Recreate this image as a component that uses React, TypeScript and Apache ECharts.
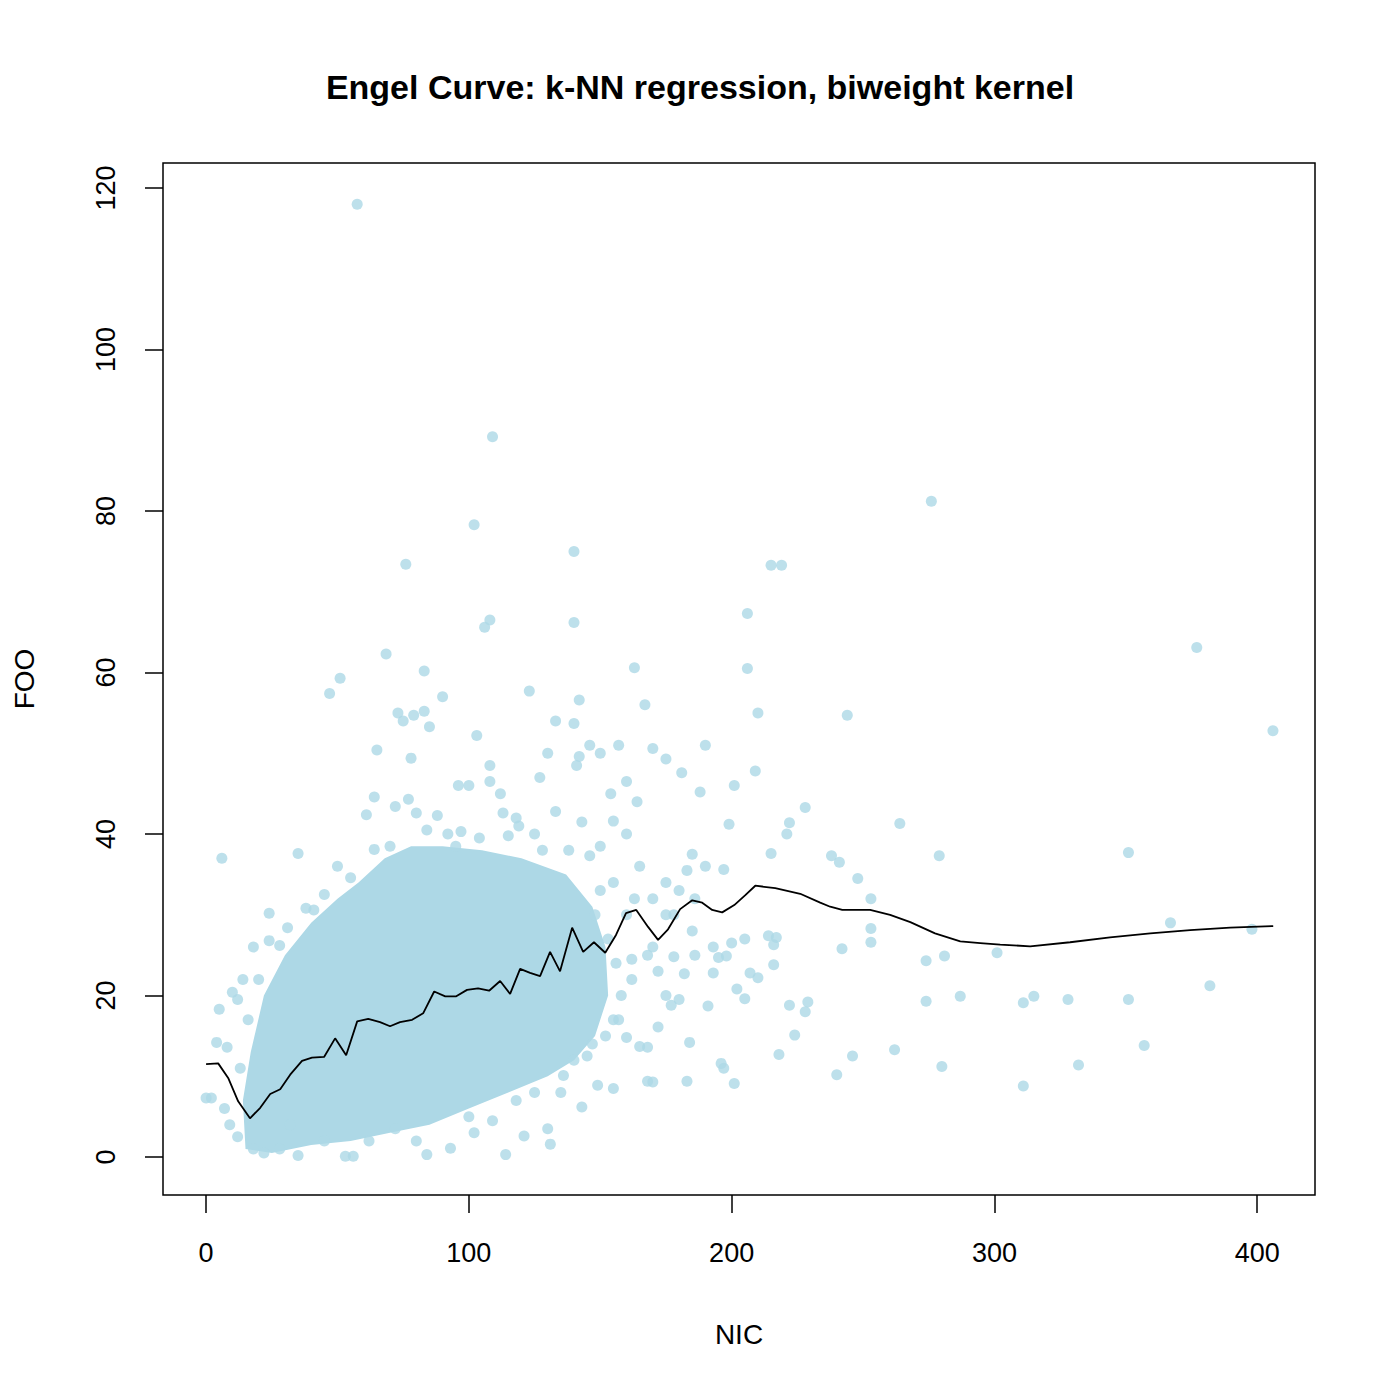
import { useEffect, useRef } from 'react';
import * as echarts from 'echarts';

// k-NN biweight fit (NIC, FOO)
const FIT: [number, number][] = [
  [0, 11.5], [4.6, 11.6], [8.4, 9.8], [12.2, 6.9], [16.7, 4.8], [20.6, 6.1], [24.4, 7.8], [28.2, 8.4],
  [32, 10.2], [36.5, 11.9], [40.3, 12.3], [44.9, 12.4], [49.1, 14.7], [53.3, 12.6], [57.5, 16.8],
  [61.7, 17.1], [66.2, 16.7], [70, 16.2], [73.8, 16.7], [78.4, 17], [82.6, 17.8], [86.8, 20.5],
  [91, 19.9], [95.2, 19.9], [99.3, 20.7], [103.5, 20.9], [107.7, 20.6], [111.9, 21.8], [115.7, 20.2],
  [119.5, 23.3], [123.3, 22.8], [127.1, 22.4], [130.9, 25.4], [134.7, 23], [139.3, 28.4], [143.5, 25.4],
  [147.6, 26.6], [151.9, 25.3], [156, 27.5], [159.8, 30.2], [163.7, 30.6], [168.2, 28.5], [172, 26.9],
  [175.8, 28.2], [180.4, 30.7], [185, 31.8], [188.8, 31.5], [192.6, 30.6], [196.4, 30.3], [201, 31.2],
  [205.1, 32.4], [209, 33.6], [216.6, 33.3], [226.1, 32.6], [233.7, 31.5], [237.5, 31], [242.1, 30.6],
  [252.7, 30.6], [260.3, 30], [268, 29.1], [277.4, 27.7], [287, 26.7], [294.6, 26.5], [302.2, 26.3],
  [313.6, 26.1], [328.8, 26.6], [344, 27.2], [359.3, 27.7], [374.5, 28.1], [389.7, 28.4], [406.1, 28.6],
];

// outline of the densely overplotted core of the cloud
const CORE: [number, number][] = [
  [15, 1], [25, 0.5], [40, 1.5], [55, 2], [70, 3], [85, 4], [100, 6], [115, 8], [130, 10], [140, 12],
  [148, 15], [153, 20], [152, 26], [147, 31], [137, 35], [120, 37], [105, 38], [90, 38.5], [78, 38.5],
  [68, 37], [58, 34], [50, 32], [40, 29], [30, 25], [22, 20], [17, 13], [14, 7],
];

const POINTS: [number, number][] = [
  [57.5, 118], [109, 89.2], [102, 78.3], [76, 73.4], [140, 75], [108, 66.5], [106, 65.6], [140, 66.2],
  [68.5, 62.3], [83, 60.2], [51, 59.3], [47, 57.4], [90, 57], [123, 57.7], [142, 56.6], [73, 55], [75, 54],
  [79, 54.7], [83, 55.2], [85, 53.3], [133, 54], [140, 53.7], [130, 50], [103, 52.2], [108, 48.5],
  [142, 49.6], [150, 50], [146, 51], [163, 60.6], [167, 56], [65, 50.4], [78, 49.4], [108, 46.5],
  [112, 45], [96, 46], [100, 46], [157, 51], [170, 50.6], [175, 49.3], [181, 47.6], [190, 51], [64, 44.6],
  [72, 43.4], [77, 44.3], [80, 42.6], [113, 42.6], [118, 42], [127, 47], [141, 48.5], [154, 45],
  [160, 46.5], [164, 44], [188, 45.2], [199, 41.2], [206, 67.3], [206, 60.5], [210, 55], [215, 73.3],
  [219, 73.3], [201, 46], [209, 47.8], [228, 43.3], [222, 41.4], [221, 40], [215, 37.6], [238, 37.3],
  [241, 36.5], [244, 54.7], [248, 34.5], [253, 32], [264, 41.3], [279, 37.3], [276, 81.2], [377, 63.1],
  [406, 52.8], [351, 37.7], [367, 29], [398, 28.2], [382, 21.2], [357, 13.8], [351, 19.5], [332, 11.4],
  [328, 19.5], [315, 19.9], [311, 19.1], [311, 8.8], [301, 25.3], [287, 19.9], [281, 24.9], [280, 11.2],
  [274, 24.3], [274, 19.3], [262, 13.3], [253, 28.3], [253, 26.6], [246, 12.5], [242, 25.8], [240, 10.2],
  [229, 19.2], [228, 18], [224, 15.1], [222, 18.8], [218, 12.7], [217, 27.2], [216, 26.3], [216, 23.8],
  [214, 27.4], [210, 22.2], [207, 22.8], [205, 19.6], [202, 20.8], [201, 9.1], [197, 11], [196, 11.6],
  [198, 24.9], [193, 26], [191, 18.7], [193, 22.8], [195, 24.7], [186, 25], [184, 14.2], [183, 9.4],
  [183, 35.5], [182, 22.7], [180, 19.5], [177, 18.8], [175, 20], [172, 16.1], [170, 9.3], [168, 9.4],
  [168, 13.6], [165, 13.7], [160, 14.8], [157, 17], [155, 8.5], [149, 8.9], [147, 14], [143, 6.2],
  [136, 10.1], [131, 1.6], [130, 3.5], [121, 2.6], [114, 0.3], [109, 4.5], [93, 1.1], [84, 0.3], [56, 0.1],
  [53, 0.1], [35, 0.2], [22, 0.5], [6, 37], [5, 18.3], [2, 7.3], [0, 7.3], [4, 14.2], [8, 13.6], [7, 6],
  [10, 20.4], [14, 22], [12, 19.5], [18, 26], [24, 30.2], [24, 26.8], [31, 28.4], [35, 37.6], [41, 30.6],
  [50, 36], [61, 42.4], [64, 38.1], [55, 34.6], [88, 42.3], [92, 40], [97, 40.3], [95, 38.5], [115, 39.8],
  [119, 41], [125, 40], [133, 42.8], [138, 38], [143, 41.5], [146, 37.3], [150, 38.5], [155, 41.6],
  [160, 40], [165, 36], [170, 32], [178, 30], [186, 32], [190, 36], [185, 37.5], [180, 33], [175, 34],
  [197, 35.6], [205, 27], [200, 26.5], [162, 24.5], [158, 20], [155, 17], [162, 22], [168, 25], [172, 23],
  [178, 24.8], [185, 28], [9, 4], [12, 2.5], [18, 1], [28, 1], [32, 4], [45, 2], [62, 2], [72, 3.5],
  [80, 2], [100, 5], [102, 3], [118, 7], [125, 8], [135, 8], [140, 12], [145, 12.5], [152, 15], [170, 26],
  [175, 30], [163, 32], [155, 34], [148, 30], [153, 27], [160, 30], [45, 32.5], [38, 30.8], [28, 26.2],
  [20, 22], [16, 17], [13, 11], [70, 38.5], [84, 40.5], [104, 39.5], [128, 38], [150, 33], [156, 24],
];

const X_TICKS = [0, 100, 200, 300, 400];
const Y_TICKS = [0, 20, 40, 60, 80, 100, 120];

const BLUE = '#ADD8E6';
const FONT = 'Liberation Sans';

export default function App() {
  const ref = useRef<HTMLDivElement>(null);

  useEffect(() => {
    document.body.style.margin = '0';
    if (!ref.current) return;
    const chart = echarts.init(ref.current, null, { renderer: 'svg' });
    chart.setOption({
      animation: false,
      backgroundColor: '#fff',
      textStyle: { fontFamily: FONT },
      title: {
        text: 'Engel Curve: k-NN regression, biweight kernel', left: 'center', top: 65,
        textStyle: { fontFamily: FONT, fontSize: 34, fontWeight: 'bold', color: '#000' },
      },
      grid: { left: 163, top: 163, width: 1152, height: 1032, show: true, borderColor: '#000', borderWidth: 1.5, backgroundColor: 'transparent' },
      xAxis: {
        type: 'value', min: -16.4, max: 422, name: 'NIC', nameLocation: 'middle', nameGap: 125,
        nameTextStyle: { fontSize: 28, color: '#000', fontFamily: FONT },
        splitLine: { show: false },
        axisLine: { show: false, onZero: false },
        axisTick: { show: true, length: 18, lineStyle: { color: '#000', width: 1.5 }, customValues: X_TICKS },
        axisLabel: { fontSize: 27, color: '#000', margin: 44, customValues: X_TICKS, fontFamily: FONT },
      },
      yAxis: {
        type: 'value', min: -4.7, max: 123.1, name: 'FOO', nameLocation: 'middle', nameGap: 125,
        nameTextStyle: { fontSize: 28, color: '#000', fontFamily: FONT },
        splitLine: { show: false },
        axisLine: { show: false, onZero: false },
        axisTick: { show: true, length: 18, lineStyle: { color: '#000', width: 1.5 }, customValues: Y_TICKS },
        axisLabel: { fontSize: 27, color: '#000', margin: 44, rotate: 90, customValues: Y_TICKS, fontFamily: FONT },
      },
      series: [
        {
          type: 'custom', data: CORE, encode: { x: 0, y: 1 }, silent: true,
          renderItem: (params: any, api: any) => {
            if (params.dataIndex !== 0) return null;
            return { type: 'polygon', shape: { points: CORE.map(p => api.coord(p)) }, style: { fill: BLUE } };
          },
        },
        { type: 'scatter', data: POINTS, symbolSize: 11, itemStyle: { color: BLUE } },
        { type: 'line', data: FIT, showSymbol: false, lineStyle: { color: '#000', width: 1.8 } },
      ],
    });
    return () => chart.dispose();
  }, []);

  return <div ref={ref} style={{ width: 1400, height: 1400 }} />;
}
